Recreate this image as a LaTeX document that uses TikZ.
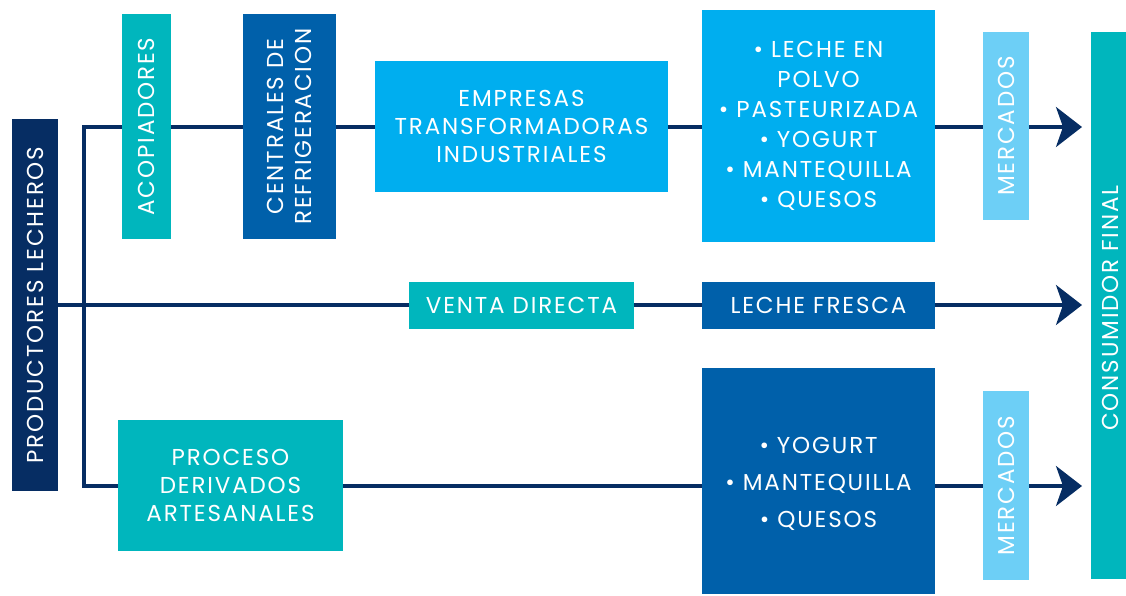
\documentclass[tikz,border=0pt]{standalone}
\usepackage{fontspec}
\setmainfont{Poppins}[LetterSpace=8]
\usetikzlibrary{arrows.meta,backgrounds}
\definecolor{navy}{HTML}{062D63}
\definecolor{teal}{HTML}{00B6BD}
\definecolor{sky}{HTML}{00AEEF}
\definecolor{royal}{HTML}{0060AA}
\definecolor{pale}{HTML}{6DCFF6}
\tikzset{
  box/.style={draw=none, inner sep=0pt, outer sep=0pt, text=white, align=center,
    font=\fontsize{23}{28}\selectfont},
  vlabel/.style={rotate=90, text=white, align=center, font=\fontsize{23}{28}\selectfont},
  flow/.style={draw=navy, line width=3.5pt},
  tipend/.tip={Stealth[length=26pt, width=40pt, inset=7pt]}
}
\begin{document}
\begin{tikzpicture}[x=1pt,y=-1pt]
\useasboundingbox (0,0) rectangle (1126,595);
% nodes
\node[box, fill=navy, minimum width=46pt, minimum height=372pt] (prod) at (35,305) {};
\node[vlabel] (prodt) at (prod.center) {PRODUCTORES LECHEROS};
\node[box, fill=teal, minimum width=49pt, minimum height=225pt] (acop) at (146.5,126.5) {};
\node[vlabel] (acopt) at (acop.center) {ACOPIADORES};
\node[box, fill=royal, minimum width=93pt, minimum height=225pt] (cent) at (289.5,126.5) {};
\node[vlabel] (centt) at (cent.center) {CENTRALES DE\\REFRIGERACION};
\node[box, fill=sky, minimum width=293pt, minimum height=131pt] (emp) at (521.5,126.5) {EMPRESAS\\TRANSFORMADORAS\\INDUSTRIALES};
\node[box, fill=sky, minimum width=233pt, minimum height=232pt, font=\fontsize{23}{30}\selectfont] (listA) at (818.5,126) {• LECHE EN\\POLVO\\• PASTEURIZADA\\• YOGURT\\• MANTEQUILLA\\• QUESOS};
\node[box, fill=pale, minimum width=46pt, minimum height=188pt] (mercA) at (1006,126) {};
\node[vlabel] (mercAt) at (mercA.center) {MERCADOS};
\node[box, fill=teal, minimum width=35pt, minimum height=547pt] (cons) at (1108.5,305.5) {};
\node[vlabel] (const) at (1110,308) {CONSUMIDOR FINAL};
\node[box, fill=teal, minimum width=225pt, minimum height=47pt] (venta) at (521.5,305.5) {VENTA DIRECTA};
\node[box, fill=royal, minimum width=233pt, minimum height=47pt] (fresca) at (818.5,305.5) {LECHE FRESCA};
\node[box, fill=teal, minimum width=225pt, minimum height=131pt] (proc) at (230.5,485.5) {PROCESO\\DERIVADOS\\ARTESANALES};
\node[box, fill=royal, minimum width=233pt, minimum height=226pt] (listB) at (818.5,481) {};
\node[box, font=\fontsize{23}{37}\selectfont] (listBt) at (818.5,484) {• YOGURT\\• MANTEQUILLA\\• QUESOS};
\node[box, fill=pale, minimum width=46pt, minimum height=189pt] (mercB) at (1006,485.5) {};
\node[vlabel] (mercBt) at (mercB.center) {MERCADOS};
% connector points
\coordinate (cb) at (84,486);
\coordinate (tipA) at (1082,127);
\coordinate (tipB) at (1082,305);
\coordinate (tipC) at (1082,486);
\begin{scope}[on background layer]
\draw[flow, tipend-tipend] (tipA) -| (cb) -- (tipC);
\draw[flow, -tipend] (prod.east) -- (tipB);
\end{scope}
\end{tikzpicture}
\end{document}
